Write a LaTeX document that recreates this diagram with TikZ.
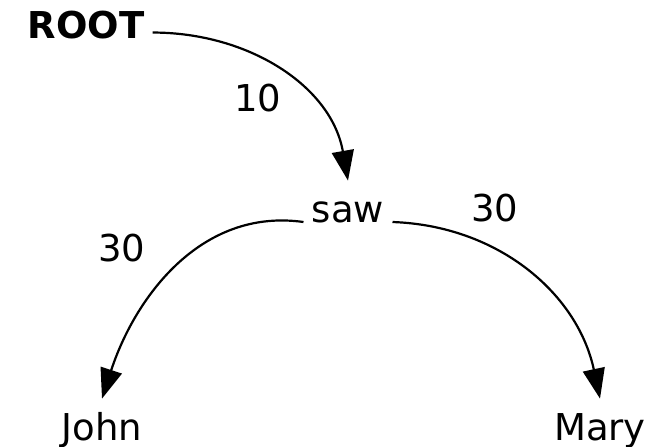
\documentclass[tikz,border=0pt]{standalone}
\usepackage{fontspec}
\setmainfont{DejaVu Sans}
\usepackage{tikz}
\usetikzlibrary{positioning,arrows.meta}

\begin{document}
\begin{tikzpicture}[x=0.5pt, y=-0.5pt,
        every node/.style={font=\fontsize{18.5}{22}\selectfont},
        word/.style={anchor=base, text height=14pt, text depth=4pt, inner xsep=4pt, inner ysep=6.5pt},
        dep/.style={-{Triangle[length=15pt, width=11pt]}, line width=1.1pt}]
        \useasboundingbox (0, 0) rectangle (659, 446);

        % Palavras
        \node[word, font=\fontsize{18.5}{22}\selectfont\bfseries] (root) at (86, 38) {ROOT};
        \node[word] (saw) at (348, 222) {saw};
        \node[word] (john) at (102, 440) {John};
        \node[word] (mary) at (600, 440) {Mary};

        % Arcos
        \draw[dep] (root.mid east) to[out=0, in=100] (saw.north);
        \draw[dep] (saw.base west) to[out=172, in=72] (john.north);
        \draw[dep] (saw.base east) to[out=-2, in=102] (mary.north);

        % Pesos
        \node (w10) at (258, 98) {10};
        \node (w30a) at (122, 248) {30};
        \node (w30b) at (495, 208) {30};
    \end{tikzpicture}
\end{document}
